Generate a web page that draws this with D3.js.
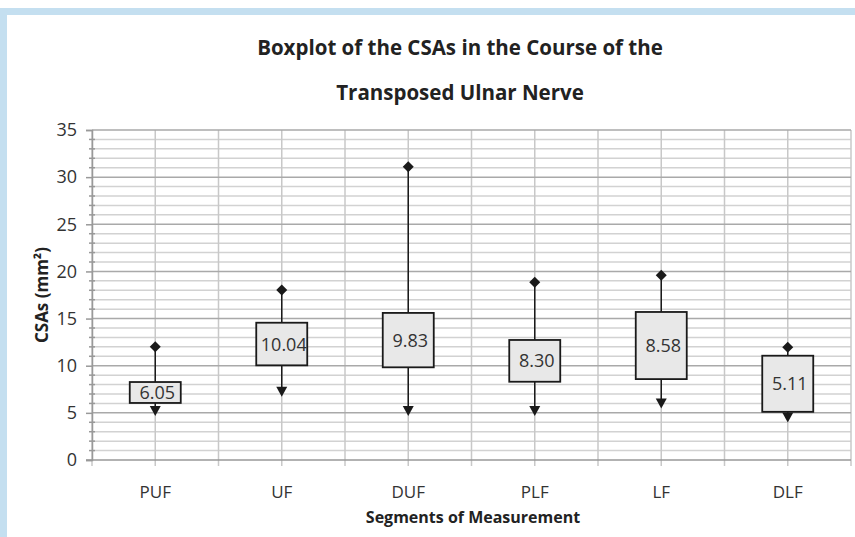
<!DOCTYPE html>
<html>
<head>
<meta charset="utf-8">
<script src="https://cdn.jsdelivr.net/npm/d3@7"></script>
<style>
  body { margin: 0; background: #fff; }
  svg { display: block; }
  text { font-family: "Open Sans", sans-serif; }
</style>
</head>
<body>
<svg id="chart"></svg>
<script>
// values
const categories = ['PUF', 'UF', 'DUF', 'PLF', 'LF', 'DLF']
const minVals = [5.2, 7.25, 5.2, 5.2, 6.0, 4.5]
const q1Vals = [6.05, 10.04, 9.83, 8.30, 8.58, 5.11]
const q3Vals = [8.27, 14.56, 15.6, 12.73, 15.7, 11.06]
const maxVals = [12.0, 18.03, 31.1, 18.85, 19.6, 11.95]
const yTicks = [0, 5, 10, 15, 20, 25, 30, 35]

const titleLines = ['Boxplot of the CSAs in the Course of the', 'Transposed Ulnar Nerve']

const W = 855, H = 537
const margin = { top: 130, bottom: 77, left: 92, right: 4 }

const svg = d3.select('#chart')
    .attr('width', W)
    .attr('height', H)

// light blue frame, top and left
svg.append('rect')
    .attr('x', 0).attr('y', 8)
    .attr('width', W).attr('height', 7)
    .attr('fill', '#c4dff0')
svg.append('rect')
    .attr('x', 0).attr('y', 8)
    .attr('width', 7).attr('height', H - 8)
    .attr('fill', '#c4dff0')

const width = W - margin.left - margin.right
const height = H - margin.top - margin.bottom

const xScale = d3.scaleBand()
    .domain(categories)
    .range([0, width])
    .padding(0)

const yScale = d3.scaleLinear()
    .domain([0, 35])
    .range([height, 0])

const chart = svg.append('g')
    .attr('transform', `translate(${margin.left},${margin.top})`)

// minor horizontal grid
chart.append('g')
    .selectAll('line')
    .data(d3.range(1, 35).filter(v => v % 5 !== 0))
    .join('line')
    .attr('x1', 0).attr('x2', width)
    .attr('y1', d => yScale(d)).attr('y2', d => yScale(d))
    .attr('stroke', '#d2d2d2')
    .attr('stroke-width', 1.5)

// vertical grid at edges and centres
const vLines = []
categories.forEach(c => {
    vLines.push(xScale(c))
    vLines.push(xScale(c) + xScale.bandwidth() / 2)
})
vLines.push(width)
chart.append('g')
    .selectAll('line')
    .data(vLines)
    .join('line')
    .attr('x1', d => d).attr('x2', d => d)
    .attr('y1', 0).attr('y2', height + 6)
    .attr('stroke', '#c8c8c8')
    .attr('stroke-width', 1.5)

// major horizontal grid
chart.append('g')
    .selectAll('line')
    .data(yTicks.filter(v => v > 0))
    .join('line')
    .attr('x1', 0).attr('x2', width)
    .attr('y1', d => yScale(d)).attr('y2', d => yScale(d))
    .attr('stroke', '#a9a9a9')
    .attr('stroke-width', 1.5)

// minor y ticks
chart.append('g')
    .selectAll('line')
    .data(d3.range(1, 35).filter(v => v % 5 !== 0))
    .join('line')
    .attr('x1', -3).attr('x2', 3)
    .attr('y1', d => yScale(d)).attr('y2', d => yScale(d))
    .attr('stroke', '#999')
    .attr('stroke-width', 1.5)

const yAxis = d3.axisLeft(yScale)
    .tickValues(yTicks)
    .tickSize(6)
    .tickPadding(9)

const yAxisG = chart.append('g')
    .attr('class', 'axis y-axis')
    .call(yAxis)
yAxisG.select('.domain').attr('stroke', '#999').attr('stroke-width', 1.5)
yAxisG.selectAll('.tick line').attr('stroke', '#999').attr('stroke-width', 1.5)
yAxisG.selectAll('.tick text')
    .attr('fill', '#333')
    .style('font-size', '18px')

// x axis line
chart.append('line')
    .attr('x1', -6).attr('x2', width)
    .attr('y1', height).attr('y2', height)
    .attr('stroke', '#999')
    .attr('stroke-width', 1.5)

chart.append('g')
    .selectAll('text')
    .data(categories)
    .join('text')
    .attr('x', d => xScale(d) + xScale.bandwidth() / 2)
    .attr('y', height + 38)
    .attr('text-anchor', 'middle')
    .attr('fill', '#333')
    .style('font-size', '17px')
    .text(d => d)

// boxes
const boxW = 51
const boxes = chart.append('g')
categories.forEach((c, i) => {
    const cx = xScale(c) + xScale.bandwidth() / 2
    boxes.append('line')
        .attr('x1', cx).attr('x2', cx)
        .attr('y1', yScale(maxVals[i])).attr('y2', yScale(minVals[i]))
        .attr('stroke', '#1a1a1a')
        .attr('stroke-width', 1.5)
    boxes.append('rect')
        .attr('x', cx - boxW / 2)
        .attr('y', yScale(q3Vals[i]))
        .attr('width', boxW)
        .attr('height', yScale(q1Vals[i]) - yScale(q3Vals[i]))
        .attr('fill', '#e8e8e8')
        .attr('stroke', '#1a1a1a')
        .attr('stroke-width', 1.8)
    // diamond at max
    const ym = yScale(maxVals[i])
    boxes.append('path')
        .attr('d', `M${cx},${ym - 5.5}L${cx + 5.5},${ym}L${cx},${ym + 5.5}L${cx - 5.5},${ym}Z`)
        .attr('fill', '#1a1a1a')
    // down triangle at min
    const yn = yScale(minVals[i])
    boxes.append('path')
        .attr('d', `M${cx - 5.5},${yn - 5}L${cx + 5.5},${yn - 5}L${cx},${yn + 5}Z`)
        .attr('fill', '#1a1a1a')
    boxes.append('text')
        .attr('x', cx + 2)
        .attr('y', (yScale(q1Vals[i]) + yScale(q3Vals[i])) / 2)
        .attr('dy', '0.36em')
        .attr('text-anchor', 'middle')
        .attr('fill', '#333')
        .style('font-size', '18px')
        .text(q1Vals[i].toFixed(2))
})

// titles
svg.selectAll('.title')
    .data(titleLines)
    .join('text')
    .attr('class', 'title')
    .attr('x', 460)
    .attr('y', (d, i) => 55 + i * 45)
    .attr('text-anchor', 'middle')
    .attr('fill', '#222')
    .style('font-size', '20.5px')
    .style('font-weight', 'bold')
    .text(d => d)

svg.append('text')
    .attr('transform', `translate(48,${margin.top + height / 2}) rotate(-90)`)
    .attr('text-anchor', 'middle')
    .attr('fill', '#222')
    .style('font-size', '17px')
    .style('font-weight', 'bold')
    .text('CSAs (mm²)')

svg.append('text')
    .attr('x', 473)
    .attr('y', 523)
    .attr('text-anchor', 'middle')
    .attr('fill', '#222')
    .style('font-size', '16px')
    .style('font-weight', 'bold')
    .text('Segments of Measurement')
</script>
</body>
</html>
